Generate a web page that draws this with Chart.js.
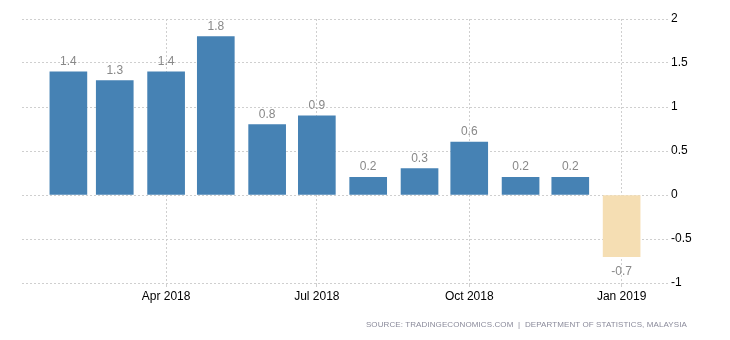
<!DOCTYPE html>
<html>
<head>
<meta charset="utf-8">
<script src="https://cdn.jsdelivr.net/npm/chart.js@4.4.1/dist/chart.umd.min.js"></script>
<style>
  html, body { margin: 0; padding: 0; background: #fff; }
  #wrap { position: relative; width: 730px; height: 340px; }
  #source {
    position: absolute; right: 43px; top: 320px;
    font: 8px "Liberation Sans", Arial, sans-serif; letter-spacing: 0.1px;
    color: #8a8a9a; white-space: pre;
  }
</style>
</head>
<body>
<div id="wrap">
  <canvas id="growthChart" width="730" height="340"></canvas>
  <div id="source">SOURCE: TRADINGECONOMICS.COM  |  DEPARTMENT OF STATISTICS, MALAYSIA</div>
</div>
<script>
// Monthly series, Feb 2018 - Jan 2019
const months = ['2018-02', '2018-03', '2018-04', '2018-05', '2018-06', '2018-07',
                '2018-08', '2018-09', '2018-10', '2018-11', '2018-12', '2019-01'];
const values = [1.4, 1.3, 1.4, 1.8, 0.8, 0.9, 0.2, 0.3, 0.6, 0.2, 0.2, -0.7];

// Labelled ticks on the time axis
const tickMonths = ['2018-04', '2018-07', '2018-10', '2019-01'];
const tickLabels = ['Apr 2018', 'Jul 2018', 'Oct 2018', 'Jan 2019'];

// Days since the first month, so bar spacing follows month length
const origin = Date.UTC(2018, 1, 1);
function dayOf(ym) {
    const [y, m] = ym.split('-').map(Number);
    return (Date.UTC(y, m - 1, 1) - origin) / 86400000;
}
const points = months.map((m, i) => ({ x: dayOf(m), y: values[i] }));
const lastDay = dayOf(months[months.length - 1]);

// Value labels above (or below) each bar
const valueLabels = {
    id: 'valueLabels',
    afterDatasetsDraw(chart) {
        const ctx = chart.ctx;
        const meta = chart.getDatasetMeta(0);
        ctx.save();
        ctx.font = '12px "Liberation Sans", Arial, sans-serif';
        ctx.fillStyle = '#888';
        ctx.textAlign = 'center';
        ctx.textBaseline = 'alphabetic';
        meta.data.forEach((bar, i) => {
            const v = values[i];
            const y = v >= 0 ? bar.y - 7 : bar.y + 18;
            ctx.fillText(String(v), bar.x, y);
        });
        ctx.restore();
    }
};

const ctx = document.getElementById('growthChart').getContext('2d');
const growthChart = new Chart(ctx, {
    type: 'bar',
    data: {
        datasets: [{
            data: points,
            backgroundColor: values.map(v => v >= 0 ? '#4682b4' : '#f5deb3'),
            barThickness: 37
        }]
    },
    options: {
        responsive: false,
        animation: false,
        layout: { padding: { left: 22, top: 19, right: 0, bottom: 0 } },
        plugins: {
            legend: { display: false },
            tooltip: { enabled: false }
        },
        scales: {
            x: {
                type: 'linear',
                min: -28,
                max: lastDay + 28,
                offset: false,
                afterBuildTicks: axis => {
                    axis.ticks = tickMonths.map(m => ({ value: dayOf(m) }));
                },
                afterFit: axis => { axis.height = 57; },
                ticks: {
                    autoSkip: false,
                    maxRotation: 0,
                    padding: 2,
                    color: '#000',
                    font: { family: '"Liberation Sans", Arial, sans-serif', size: 12 },
                    callback: (value, index) => tickLabels[index]
                },
                grid: { color: '#cfcfcf', tickLength: 4, offset: false },
                border: { display: false, dash: [2, 2] }
            },
            y: {
                position: 'right',
                min: -1,
                max: 2,
                afterFit: axis => { axis.width = 62; },
                ticks: {
                    stepSize: 0.5,
                    padding: 3,
                    color: '#000',
                    font: { family: '"Liberation Sans", Arial, sans-serif', size: 12 },
                    callback: value => String(value)
                },
                grid: { color: '#cfcfcf', tickLength: 0 },
                border: { display: false, dash: [2, 2] }
            }
        }
    },
    plugins: [valueLabels]
});
</script>
</body>
</html>
